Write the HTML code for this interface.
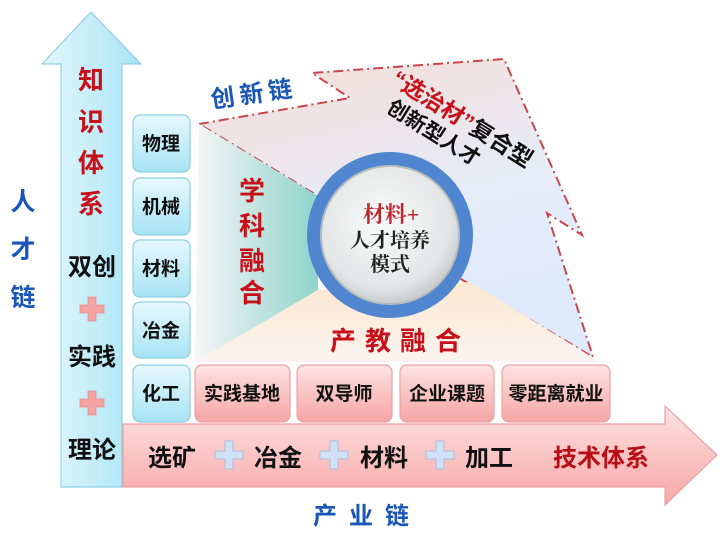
<!DOCTYPE html>
<html><head><meta charset="utf-8"><style>
html,body{margin:0;padding:0;background:#fff}
svg{display:block}
text{font-family:"Liberation Sans","Noto Sans CJK SC",sans-serif;font-weight:bold}
</style></head><body>
<svg width="726" height="533" viewBox="0 0 726 533" xmlns="http://www.w3.org/2000/svg">
<defs>
<linearGradient id="vb" x1="0" x2="1" y1="0" y2="0"><stop offset="0" stop-color="#e4f7fc"/><stop offset="1" stop-color="#a8e4f5"/></linearGradient>
<linearGradient id="hr" x1="0" x2="0" y1="0" y2="1"><stop offset="0" stop-color="#ffe2e2"/><stop offset="1" stop-color="#f7a7a7"/></linearGradient>
<linearGradient id="bb" x1="0" x2="0" y1="0" y2="1"><stop offset="0" stop-color="#e6f8fd"/><stop offset="1" stop-color="#a7e3f4"/></linearGradient>
<linearGradient id="rb" x1="0" x2="0" y1="0" y2="1"><stop offset="0" stop-color="#fde2e2"/><stop offset="1" stop-color="#f6a5a5"/></linearGradient>
<linearGradient id="poly" x1="0" x2="0.3" y1="0" y2="1"><stop offset="0" stop-color="#f5ddd6"/><stop offset="0.6" stop-color="#e6ecf8"/><stop offset="1" stop-color="#dfeaff"/></linearGradient>
<linearGradient id="teal" x1="0" x2="1" y1="0" y2="0"><stop offset="0" stop-color="#f6f6f6"/><stop offset="1" stop-color="#8fd3cc"/></linearGradient>
<linearGradient id="peach" x1="0" x2="0" y1="0" y2="1"><stop offset="0" stop-color="#fde8cf"/><stop offset="1" stop-color="#faf3f0"/></linearGradient>
<radialGradient id="ci" cx="0.45" cy="0.4" r="0.6"><stop offset="0" stop-color="#fafafa"/><stop offset="0.8" stop-color="#e3e6e6"/><stop offset="1" stop-color="#c9cdcd"/></radialGradient>
</defs>

<polygon points="199,124 350,98 312,73 504,59 582,235 547,213 593,357 466,282 318,196" fill="url(#poly)" stroke="#c8464a" stroke-width="2" stroke-dasharray="10,4,2,4"/>
<polygon points="199,124 318,196 318,290 195,362" fill="url(#teal)"/>
<polygon points="195,362 318,290 470,282 600,362" fill="url(#peach)"/>

<polygon points="91,12 141,64 122,64 122,487 61,487 61,64 42,64" fill="url(#vb)" stroke="#8fd0e4" stroke-width="1.2"/>
<polygon points="123,424 665,424 665,406 717,455 665,505 665,487 123,487" fill="url(#hr)" stroke="#e9a0a0" stroke-width="1.2"/>

<g stroke="#8ccfe2" stroke-width="1.2" fill="url(#bb)">
<rect x="133" y="115" width="57" height="57" rx="7"/>
<rect x="133" y="178" width="57" height="57" rx="7"/>
<rect x="133" y="240" width="57" height="57" rx="7"/>
<rect x="133" y="302" width="57" height="56" rx="7"/>
<rect x="133" y="365" width="57" height="57" rx="7"/>
</g>
<g stroke="#eba3a3" stroke-width="1.2" fill="url(#rb)">
<rect x="195" y="365" width="95" height="57" rx="7"/>
<rect x="297" y="365" width="95" height="57" rx="7"/>
<rect x="400" y="365" width="94" height="57" rx="7"/>
<rect x="502" y="365" width="108" height="57" rx="7"/>
</g>
<g font-size="19" fill="#111" text-anchor="middle">
<text x="161" y="150">物理</text>
<text x="161" y="213">机械</text>
<text x="161" y="275">材料</text>
<text x="161" y="337">冶金</text>
<text x="161" y="400">化工</text>
<text x="242" y="400">实践基地</text>
<text x="344" y="400">双导师</text>
<text x="447" y="400">企业课题</text>
<text x="556" y="400">零距离就业</text>
</g>

<circle cx="390" cy="235" r="83" fill="#4f86cf"/>
<circle cx="390" cy="235" r="69" fill="url(#ci)" stroke="#b8bcbc" stroke-width="2"/>
<text x="391" y="222" text-anchor="middle" font-size="22" fill="#c0272d" font-weight="normal" style="font-family:'Liberation Serif','Noto Serif CJK SC',serif">材料+</text>
<text x="390" y="247" text-anchor="middle" font-size="20" fill="#222" font-weight="normal" style="font-family:'Liberation Serif','Noto Serif CJK SC',serif">人才培养</text>
<text x="390" y="271" text-anchor="middle" font-size="20" fill="#222" font-weight="normal" style="font-family:'Liberation Serif','Noto Serif CJK SC',serif">模式</text>

<g font-size="25" fill="#1a56b8" text-anchor="middle">
<text x="23" y="210">人</text>
<text x="23" y="258">才</text>
<text x="23" y="306">链</text>
</g>
<g font-size="26" fill="#c8101a" text-anchor="middle">
<text x="91" y="89">知</text>
<text x="91" y="131">识</text>
<text x="91" y="172">体</text>
<text x="91" y="213">系</text>
</g>
<g font-size="24" fill="#111" text-anchor="middle">
<text x="92" y="275">双创</text>
<text x="92" y="365">实践</text>
<text x="92" y="458">理论</text>
</g>
<g fill="#f5a3a3" stroke="#e58b8b" stroke-width="0.8">
<path d="M88,297h8v8h8v8h-8v8h-8v-8h-8v-8h8z"/>
<path d="M88,391h8v8h8v8h-8v8h-8v-8h-8v-8h8z"/>
</g>

<g font-size="26" fill="#c8101a" text-anchor="middle">
<text x="252" y="200">学</text>
<text x="252" y="235">科</text>
<text x="252" y="270">融</text>
<text x="252" y="302">合</text>
</g>
<text x="400" y="350" font-size="26" fill="#c8101a" text-anchor="middle" letter-spacing="9">产教融合</text>

<text x="212" y="108" font-size="24" fill="#1a56b8" transform="rotate(-8 212 108)" letter-spacing="5">创新链</text>
<g transform="rotate(32 400 80)">
<text x="393" y="88" font-size="23" fill="#c8101a">“选治材”<tspan fill="#111">复合型</tspan></text>
<text x="404" y="114" font-size="21" fill="#111">创新型人才</text>
</g>

<g font-size="24" fill="#111">
<text x="148" y="466">选矿</text>
<text x="254" y="466">冶金</text>
<text x="360" y="466">材料</text>
<text x="465" y="466">加工</text>
</g>
<text x="553" y="466" font-size="24" fill="#b80f16">技术体系</text>
<g fill="#cfe0f7" stroke="#9fb8dc" stroke-width="0.8">
<path d="M225,441h8v10h10v8h-10v10h-8v-10h-10v-8h10z"/>
<path d="M330,441h8v10h10v8h-10v10h-8v-10h-10v-8h10z"/>
<path d="M436,441h8v10h10v8h-10v10h-8v-10h-10v-8h10z"/>
</g>
<text x="367" y="524" font-size="24" fill="#1a56b8" text-anchor="middle" letter-spacing="12">产业链</text>
</svg>
</body></html>
